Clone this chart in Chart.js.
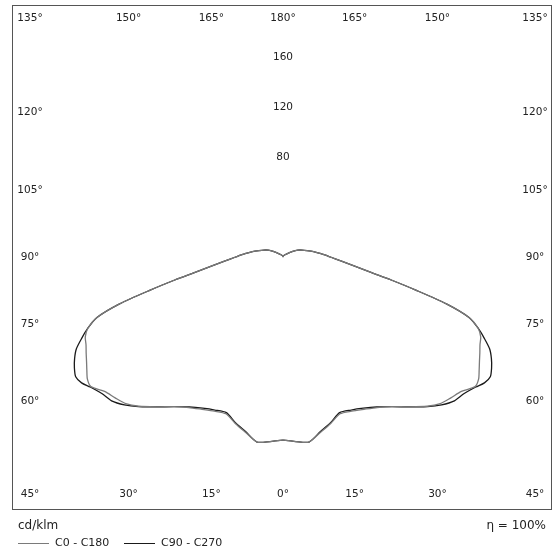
<!DOCTYPE html>
<html>
<head>
<meta charset="utf-8">
<title>Light distribution</title>
<script src="https://cdn.jsdelivr.net/npm/chart.js@4.4.1/dist/chart.umd.min.js"></script>
<style>
    body { margin: 0; background: #fff; }
    canvas { display: block; }
</style>
</head>
<body>
<canvas id="polarChart" width="555" height="552"></canvas>
<script>
// Gamma angles (0 = straight down, 180 = straight up)
const gammaAngles = [0, 4, 8, 12, 16, 20, 24, 28, 32, 36, 40, 44, 47, 50, 53, 56, 58, 60, 62, 64,
    66, 68, 70, 72, 74, 76, 78, 80, 83, 86, 90, 95, 100, 105, 110, 115, 120, 130, 150, 180];

// Luminous intensity, cd/klm
const c0c180 = [146.5, 148, 149.5, 143.5, 138.5, 133.5, 135, 138, 142, 148, 156.5, 166, 172, 175.3, 178.7, 185.4, 184.5, 181.2, 178, 175.2,
    172.5, 170.6, 166, 156.5, 136, 109.5, 88.5, 72, 56.7, 46.9, 37.9, 30.5, 24.8, 19.9, 16.3, 13, 9, 4, 1.5, 0];
const c90c270 = [146.5, 148, 149.5, 143, 138, 132.5, 134, 137, 141.5, 148, 156.5, 166.5, 173.5, 179, 181.5, 186, 190, 191.5, 189, 185.5,
    181, 173.7, 166, 156.5, 136, 109.5, 88.5, 72, 56.7, 46.9, 37.9, 30.5, 24.8, 19.9, 16.3, 13, 9, 4, 1.5, 0];

// Axis labels
const radialTicks = [80, 120, 160];
const sideAngles = [135, 120, 105, 90, 75, 60, 45];
const topAngles = [150, 165, 180];
const bottomAngles = [0, 15, 30];

const legendLabels = ['C0 - C180', 'C90 - C270'];
const unitLabel = 'cd/klm';
const ratioLabel = 'η = 100%';

// Turn a plane (same values both halves) into x/y points, left half first
function planeToPoints(values) {
    const points = [];
    for (let i = gammaAngles.length - 1; i >= 0; i--) {
        const a = gammaAngles[i] * Math.PI / 180;
        points.push({ x: -values[i] * Math.sin(a), y: -values[i] * Math.cos(a) });
    }
    for (let i = 1; i < gammaAngles.length; i++) {
        const a = gammaAngles[i] * Math.PI / 180;
        points.push({ x: values[i] * Math.sin(a), y: -values[i] * Math.cos(a) });
    }
    return points;
}

const FONT = '"DejaVu Sans", Verdana, sans-serif';
const SIDE_R = 200;   // where the side labels sit, in cd/klm units
const TOP_R = 214;    // same for top and bottom labels

// Frame, angle labels, radial labels and legend
const framePlugin = {
    id: 'frame',
    afterDraw(chart) {
        const ctx = chart.ctx;
        const area = chart.chartArea;
        const xs = chart.scales.x;
        const ys = chart.scales.y;
        const tan = d => Math.tan(d * Math.PI / 180);

        ctx.save();
        ctx.strokeStyle = '#555';
        ctx.lineWidth = 1;
        ctx.strokeRect(area.left + 0.5, area.top + 0.5, area.right - area.left - 1, area.bottom - area.top - 1);

        ctx.fillStyle = '#222';
        ctx.font = '10.5px ' + FONT;
        ctx.textAlign = 'center';
        ctx.textBaseline = 'middle';

        const topY = area.top + 13;
        const bottomY = area.bottom - 16;

        // side labels
        sideAngles.forEach(g => {
            const phi = g - 90;
            let y;
            if (phi === 45) y = topY;
            else if (phi === -45) y = bottomY;
            else y = ys.getPixelForValue(SIDE_R * tan(phi));
            ctx.fillText(g + '°', area.left + 18, y);
            ctx.fillText(g + '°', area.right - 17, y);
        });

        // top labels
        topAngles.forEach(g => {
            const off = TOP_R * tan(180 - g);
            ctx.fillText(g + '°', xs.getPixelForValue(-off), topY);
            if (off) ctx.fillText(g + '°', xs.getPixelForValue(off), topY);
        });

        // bottom labels
        bottomAngles.forEach(g => {
            const off = TOP_R * tan(g);
            ctx.fillText(g + '°', xs.getPixelForValue(-off), bottomY);
            if (off) ctx.fillText(g + '°', xs.getPixelForValue(off), bottomY);
        });

        // radial values up the 180° axis
        radialTicks.forEach(v => {
            ctx.fillText(String(v), xs.getPixelForValue(0), ys.getPixelForValue(v));
        });

        // unit and ratio
        ctx.font = '12px ' + FONT;
        ctx.textAlign = 'left';
        ctx.fillText(unitLabel, 18, area.bottom + 16);
        ctx.textAlign = 'right';
        ctx.fillText(ratioLabel, 546, area.bottom + 16);

        // legend
        ctx.font = '11px ' + FONT;
        ctx.textAlign = 'left';
        const ly = area.bottom + 33;
        const items = [
            { x: 18, color: chart.data.datasets[0].borderColor },
            { x: 124, color: chart.data.datasets[1].borderColor }
        ];
        items.forEach((it, i) => {
            ctx.strokeStyle = it.color;
            ctx.beginPath();
            ctx.moveTo(it.x, ly + 0.5);
            ctx.lineTo(it.x + 31, ly + 0.5);
            ctx.stroke();
            ctx.fillText(legendLabels[i], it.x + 37, ly);
        });
        ctx.restore();
    }
};

document.addEventListener('DOMContentLoaded', function() {
    const ctx = document.getElementById('polarChart').getContext('2d');
    const polarChart = new Chart(ctx, {
        type: 'scatter',
        data: {
            datasets: [{
                label: legendLabels[0],
                data: planeToPoints(c0c180),
                borderColor: '#7a7a7a',
                borderWidth: 1.3,
                showLine: true,
                pointRadius: 0,
                tension: 0.25
            }, {
                label: legendLabels[1],
                data: planeToPoints(c90c270),
                borderColor: '#1a1a1a',
                borderWidth: 1.3,
                showLine: true,
                pointRadius: 0,
                tension: 0.25
            }]
        },
        options: {
            responsive: false,
            animation: false,
            layout: {
                padding: { left: 12, top: 5, right: 3, bottom: 42 }
            },
            plugins: {
                legend: { display: false },
                tooltip: { enabled: false }
            },
            scales: {
                x: { type: 'linear', min: -216.8, max: 215.2, display: false },
                y: { type: 'linear', min: -202.4, max: 201.6, display: false }
            }
        },
        plugins: [framePlugin]
    });
});
</script>
</body>
</html>
